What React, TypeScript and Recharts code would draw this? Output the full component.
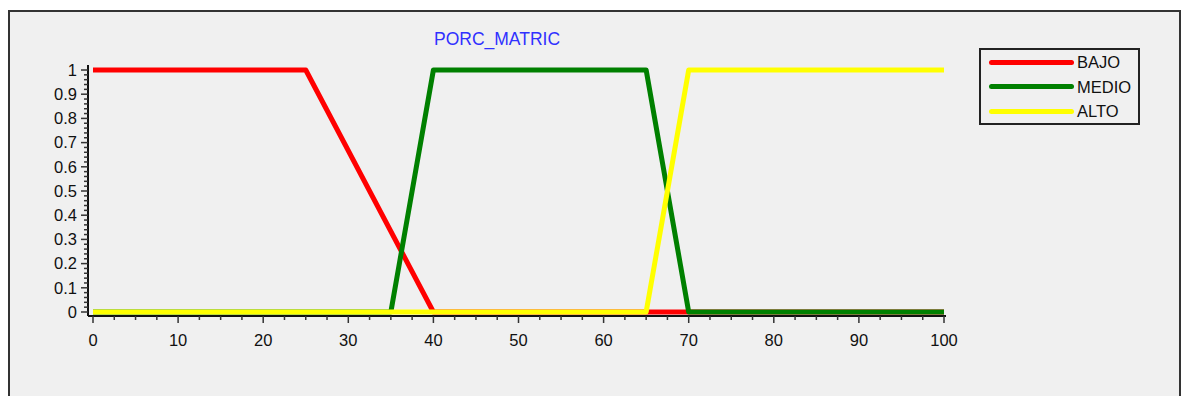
import { LineChart, Line, XAxis, YAxis } from "recharts";

// Membership functions of PORC_MATRIC (trapezoid corners)
const bajo = [
  { x: 0, y: 1 },
  { x: 25, y: 1 },
  { x: 40, y: 0 },
  { x: 100, y: 0 },
];
const medio = [
  { x: 0, y: 0 },
  { x: 35, y: 0 },
  { x: 40, y: 1 },
  { x: 65, y: 1 },
  { x: 70, y: 0 },
  { x: 100, y: 0 },
];
const alto = [
  { x: 0, y: 0 },
  { x: 65, y: 0 },
  { x: 70, y: 1 },
  { x: 100, y: 1 },
];

const series = [
  { name: "BAJO", color: "#ff0000", data: bajo },
  { name: "MEDIO", color: "#008000", data: medio },
  { name: "ALTO", color: "#ffff00", data: alto },
];

const title = "PORC_MATRIC";
const xLabels = [0, 10, 20, 30, 40, 50, 60, 70, 80, 90, 100];
const yLabels = ["0", "0.1", "0.2", "0.3", "0.4", "0.5", "0.6", "0.7", "0.8", "0.9", "1"];

// minor ticks: every 2.5 on x, every 0.02 on y
const xTicks = Array.from({ length: 41 }, (_, i) => i * 2.5);
const yTicks = Array.from({ length: 51 }, (_, i) => i / 50);

const FONT = '"Liberation Sans", Arial, sans-serif';
const W = 1169;
const H = 384;

function XTick({ x, y, payload }: any) {
  const v = payload.value;
  const major = xLabels.includes(v);
  return (
    <g>
      <line x1={x} x2={x} y1={y} y2={y + (major ? 7 : 4)} stroke="#333" strokeWidth={1.5} />
      {major && (
        <text x={x} y={y + 30} textAnchor="middle" fontSize={16.5} fill="#111" fontFamily={FONT}>
          {v}
        </text>
      )}
    </g>
  );
}

function YTick({ x, y, payload }: any) {
  const v = payload.value;
  const k = Math.round(v * 10);
  const major = Math.abs(v * 10 - k) < 1e-6;
  return (
    <g>
      <line x1={x} x2={x - (major ? 7 : 4)} y1={y} y2={y} stroke="#333" strokeWidth={1.5} />
      {major && (
        <text x={x - 11} y={y} dy="0.35em" textAnchor="end" fontSize={16.5} fill="#111" fontFamily={FONT}>
          {yLabels[k]}
        </text>
      )}
    </g>
  );
}

export default function App() {
  return (
    <div
      style={{
        position: "fixed",
        left: 8,
        top: 10,
        width: 1173,
        height: 400,
        background: "#f0f0f0",
        borderTop: "2px solid #333",
        borderLeft: "2px solid #333",
        borderRight: "2px solid #333",
        boxSizing: "border-box",
        overflow: "hidden",
        fontFamily: FONT,
      }}
    >
      <div
        style={{
          position: "absolute",
          left: 337,
          top: 18,
          width: 300,
          textAlign: "center",
          fontSize: 17.5,
          lineHeight: "18px",
          color: "#3030ff",
        }}
      >
        {title}
      </div>
      <div style={{ position: "absolute", left: 0, top: 0 }}>
        <LineChart width={W} height={H} margin={{ top: 53, right: 233, bottom: 50, left: 18 }}>
          <XAxis
            dataKey="x"
            type="number"
            domain={[0, 100]}
            ticks={xTicks}
            interval={0}
            tickSize={0}
            tickMargin={0}
            tickLine={false}
            tick={<XTick />}
            axisLine={{ stroke: "#111", strokeWidth: 2 }}
            padding={{ left: 5, right: 2 }}
            height={30}
          />
          <YAxis
            type="number"
            domain={[0, 1]}
            ticks={yTicks}
            interval={0}
            tickSize={0}
            tickMargin={0}
            tickLine={false}
            tick={<YTick />}
            axisLine={{ stroke: "#111", strokeWidth: 2 }}
            padding={{ top: 5, bottom: 4 }}
            width={60}
          />
          {series.map((s) => (
            <Line
              key={s.name}
              name={s.name}
              data={s.data}
              dataKey="y"
              type="linear"
              stroke={s.color}
              strokeWidth={5}
              strokeLinejoin="round"
              dot={false}
              activeDot={false}
              isAnimationActive={false}
            />
          ))}
        </LineChart>
      </div>
      <div
        style={{
          position: "absolute",
          left: 969,
          top: 36,
          width: 161,
          height: 77,
          border: "2px solid #222",
          boxSizing: "border-box",
        }}
      >
        {series.map((s, i) => (
          <div key={s.name}>
            <div
              style={{
                position: "absolute",
                left: 8,
                top: 12 + i * 24.5 - 2.5,
                width: 85,
                height: 5,
                borderRadius: 2.5,
                background: s.color,
              }}
            />
            <div
              style={{
                position: "absolute",
                left: 96,
                top: 12 + i * 24.5 - 9,
                fontSize: 16.5,
                lineHeight: "18px",
                color: "#111",
              }}
            >
              {s.name}
            </div>
          </div>
        ))}
      </div>
    </div>
  );
}
